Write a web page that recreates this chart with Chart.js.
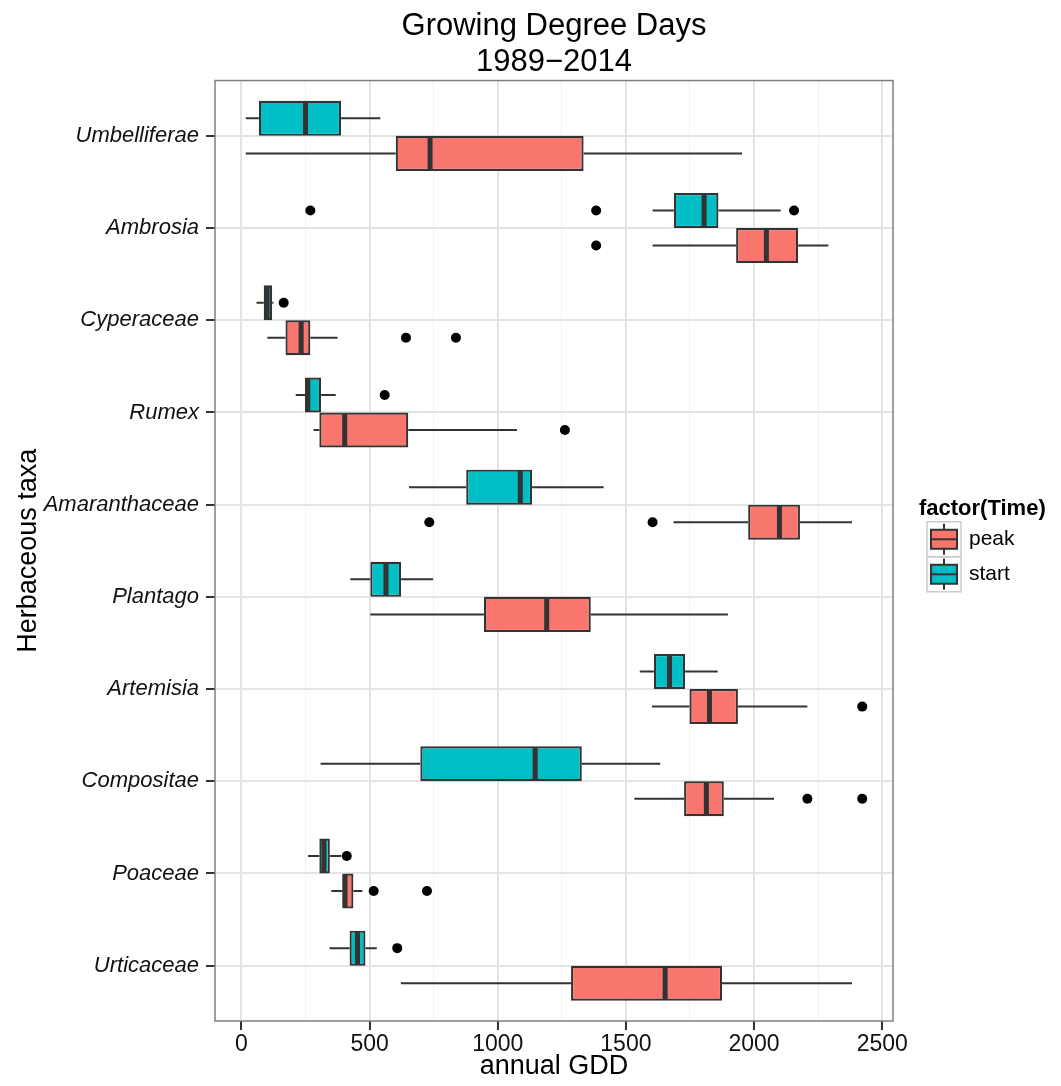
<!DOCTYPE html>
<html>
<head>
<meta charset="utf-8">
<script src="https://cdn.jsdelivr.net/npm/chart.js@4.4.0/dist/chart.umd.min.js"></script>
<style>
body { margin: 0; background: #fff; }
</style>
</head>
<body>
<canvas id="gdd" width="1061" height="1086"></canvas>
<script>
const FONT = "'Liberation Sans', Arial, sans-serif"

const taxa = ['Umbelliferae', 'Ambrosia', 'Cyperaceae', 'Rumex', 'Amaranthaceae',
              'Plantago', 'Artemisia', 'Compositae', 'Poaceae', 'Urticaceae']

// box stats (annual GDD)
const startLow  = [17, 1604, 59, 212, 654, 425, 1554, 309, 260, 344]
const startQ1   = [68, 1687, 87, 248, 877, 503, 1609, 698, 304, 422]
const startMed  = [250, 1805, 100, 259, 1088, 564, 1670, 1146, 322, 453]
const startQ3   = [389, 1861, 120, 311, 1134, 623, 1731, 1328, 345, 484]
const startHigh = [542, 2104, 125, 368, 1413, 748, 1858, 1634, 390, 528]
const startOut  = [[], [269, 1384, 2156], [165], [559], [], [], [], [], [411], [608]]

const peakLow  = [17, 1604, 101, 281, 1686, 503, 1602, 1533, 351, 622]
const peakQ1   = [602, 1930, 172, 304, 1977, 946, 1748, 1727, 394, 1286]
const peakMed  = [736, 2048, 233, 403, 2099, 1191, 1826, 1814, 404, 1653]
const peakQ3   = [1335, 2172, 269, 651, 2179, 1363, 1937, 1882, 437, 1875]
const peakHigh = [1953, 2290, 375, 1075, 2382, 1898, 2208, 2078, 472, 2382]
const peakOut  = [[], [1384], [642, 837], [1262], [733, 1604], [], [2422], [2208, 2422], [516, 724], []]

const xTicks = [0, 250, 500, 750, 1000, 1250, 1500, 1750, 2000, 2250, 2500]

const START_COL = '#00BFC4'
const PEAK_COL = '#F8766D'
const LINE_COL = '#333333'

// whiskers / medians / outliers per dataset index (0 = start, 1 = peak)
const stats = [
    {low: startLow, med: startMed, high: startHigh, out: startOut},
    {low: peakLow, med: peakMed, high: peakHigh, out: peakOut},
]
const legendItems = [{label: 'peak', color: PEAK_COL}, {label: 'start', color: START_COL}]

const boxPlugin = {
    id: 'boxExtras',
    beforeDatasetsDraw(chart) {
        const ctx = chart.ctx
        const xs = chart.scales.x
        ctx.save()
        ctx.strokeStyle = LINE_COL
        ctx.lineWidth = 2
        stats.forEach((s, di) => {
            chart.getDatasetMeta(di).data.forEach((bar, j) => {
                const q = chart.data.datasets[di].data[j].x
                ctx.beginPath()
                ctx.moveTo(xs.getPixelForValue(s.low[j]), bar.y)
                ctx.lineTo(xs.getPixelForValue(q[0]), bar.y)
                ctx.moveTo(xs.getPixelForValue(q[1]), bar.y)
                ctx.lineTo(xs.getPixelForValue(s.high[j]), bar.y)
                ctx.stroke()
            })
        })
        ctx.restore()
    },
    afterDatasetsDraw(chart) {
        const ctx = chart.ctx
        const xs = chart.scales.x
        const area = chart.chartArea
        ctx.save()
        stats.forEach((s, di) => {
            chart.getDatasetMeta(di).data.forEach((bar, j) => {
                const h = bar.height
                const mx = xs.getPixelForValue(s.med[j])
                ctx.strokeStyle = LINE_COL
                ctx.lineWidth = 5
                ctx.beginPath()
                ctx.moveTo(mx, bar.y - h / 2 + 1)
                ctx.lineTo(mx, bar.y + h / 2 - 1)
                ctx.stroke()
                ctx.fillStyle = '#000'
                for (const v of s.out[j]) {
                    ctx.beginPath()
                    ctx.arc(xs.getPixelForValue(v), bar.y, 5, 0, Math.PI * 2)
                    ctx.fill()
                }
            })
        })
        // panel border
        ctx.strokeStyle = '#7f7f7f'
        ctx.lineWidth = 1.5
        ctx.strokeRect(area.left, area.top, area.right - area.left, area.bottom - area.top)

        // legend, ggplot style
        const cy = (area.top + area.bottom) / 2
        const lx = area.right + 34
        ctx.fillStyle = '#000'
        ctx.textBaseline = 'middle'
        ctx.textAlign = 'left'
        ctx.font = `bold 22px ${FONT}`
        ctx.fillText('factor(Time)', lx - 8, cy - 42)
        ctx.font = `21px ${FONT}`
        legendItems.forEach((it, k) => {
            const size = 35
            const top = cy - 29 + k * size
            ctx.strokeStyle = '#cccccc'
            ctx.lineWidth = 1.5
            ctx.strokeRect(lx, top, size - 1, size)
            const bx = lx + 4, bw = size - 9, by = top + 8, bh = 19
            const cx = bx + bw / 2
            ctx.strokeStyle = LINE_COL
            ctx.lineWidth = 2
            ctx.beginPath()
            ctx.moveTo(cx, top + 2)
            ctx.lineTo(cx, by)
            ctx.moveTo(cx, by + bh)
            ctx.lineTo(cx, top + size - 2)
            ctx.stroke()
            ctx.fillStyle = it.color
            ctx.fillRect(bx, by, bw, bh)
            ctx.strokeRect(bx, by, bw, bh)
            ctx.beginPath()
            ctx.moveTo(bx, by + bh / 2)
            ctx.lineTo(bx + bw, by + bh / 2)
            ctx.stroke()
            ctx.fillStyle = '#000'
            ctx.fillText(it.label, lx + size + 7, top + size / 2)
        })
        ctx.restore()
    }
}

const isMajor = v => v % 500 === 0

new Chart(document.getElementById('gdd'), {
    type: 'bar',
    data: {
        datasets: [
            {
                label: 'start',
                data: taxa.map((t, i) => ({y: i, x: [startQ1[i], startQ3[i]]})),
                backgroundColor: START_COL,
                borderColor: LINE_COL,
                borderWidth: 2.2,
                borderSkipped: false,
            },
            {
                label: 'peak',
                data: taxa.map((t, i) => ({y: i, x: [peakQ1[i], peakQ3[i]]})),
                backgroundColor: PEAK_COL,
                borderColor: LINE_COL,
                borderWidth: 2.2,
                borderSkipped: false,
            },
        ]
    },
    options: {
        indexAxis: 'y',
        responsive: false,
        animation: false,
        categoryPercentage: 0.76,
        barPercentage: 1.0,
        layout: {padding: {right: 168}},
        plugins: {
            legend: {display: false},
            tooltip: {enabled: false},
            title: {
                display: true,
                fullSize: false,
                text: ['Growing Degree Days', '1989\u22122014'],
                color: '#000',
                font: {family: FONT, size: 31, weight: 'normal', lineHeight: 1.17},
                padding: {top: 8, bottom: 0},
            },
        },
        scales: {
            x: {
                type: 'linear',
                min: -103,
                max: 2542,
                afterBuildTicks: s => { s.ticks = xTicks.map(v => ({value: v})) },
                afterFit: s => { s.height = 65; s.paddingLeft = 0; s.paddingRight = 0 },
                border: {display: false},
                grid: {
                    color: c => isMajor(c.tick.value) ? '#e4e4e4' : '#f2f2f2',
                    lineWidth: c => isMajor(c.tick.value) ? 2 : 1,
                    tickColor: c => isMajor(c.tick.value) ? LINE_COL : 'rgba(0,0,0,0)',
                    tickLength: 9,
                    tickWidth: 2,
                },
                ticks: {
                    callback: v => isMajor(v) ? String(v) : '',
                    color: '#111',
                    padding: 3,
                    maxRotation: 0,
                    autoSkip: false,
                    font: {family: FONT, size: 23, lineHeight: 1.0},
                },
                title: {
                    display: true,
                    text: 'annual GDD',
                    color: '#000',
                    font: {family: FONT, size: 27, lineHeight: 1.0},
                    padding: {top: 0, bottom: 6},
                },
            },
            y: {
                type: 'linear',
                reverse: true,
                offset: false,
                min: -0.6,
                max: taxa.length - 0.4,
                afterBuildTicks: s => { s.ticks = taxa.map((t, i) => ({value: i})) },
                afterFit: s => { s.width = 215; s.paddingTop = 0; s.paddingBottom = 0 },
                border: {display: false},
                grid: {
                    offset: false,
                    color: '#e4e4e4',
                    lineWidth: 2,
                    tickColor: LINE_COL,
                    tickLength: 9,
                    tickWidth: 2,
                },
                ticks: {
                    callback: v => taxa[v],
                    color: '#111',
                    padding: 7,
                    autoSkip: false,
                    font: {family: FONT, size: 22, style: 'italic'},
                },
                title: {
                    display: true,
                    text: 'Herbaceous taxa',
                    color: '#000',
                    font: {family: FONT, size: 27, lineHeight: 1.2},
                    padding: {top: 12, bottom: 0},
                },
            },
        },
    },
    plugins: [boxPlugin],
})
</script>
</body>
</html>
